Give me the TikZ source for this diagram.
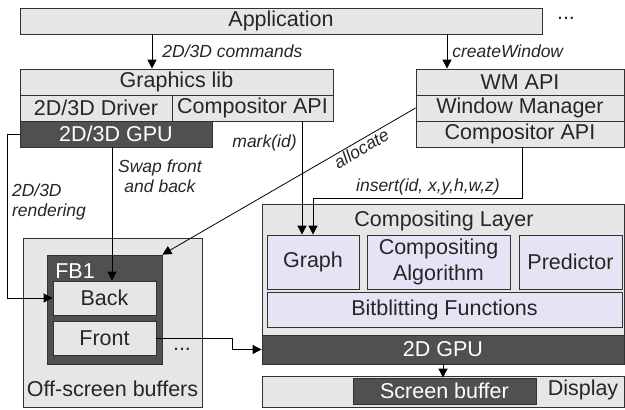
\documentclass[tikz,border=0pt]{standalone}
\usepackage{fontspec}
\setmainfont{Liberation Sans}
\usetikzlibrary{arrows.meta, calc}

\definecolor{boxgray}{RGB}{230,230,230}
\definecolor{boxlav}{RGB}{228,228,245}
\definecolor{boxdark}{RGB}{80,80,80}
\definecolor{linegray}{RGB}{50,50,50}

\begin{document}
\begin{tikzpicture}[x=1pt, y=-1pt,
    every node/.style={font=\fontsize{21.5}{26}\selectfont, text=black!85},
    block/.style={draw=linegray, line width=0.8pt, fill=boxgray, inner sep=0pt},
    subblock/.style={block, fill=boxlav, align=center},
    darkblock/.style={block, fill=boxdark, text=white},
    lbl/.style={font=\fontsize{17.5}{20.5}\selectfont\itshape, inner sep=1pt, align=center},
    arr/.style={-{Triangle[length=9pt, width=9pt]}, line width=0.8pt}]
    \useasboundingbox (0,0) rectangle (625,410);

    % Application level
    \node[block, minimum width=522, minimum height=26] (app) at (281,21) {Application};
    \node (more1) at (566,18) {...};

    % Graphics library stack
    \node[block, minimum width=313, minimum height=26] (glib) at (176.5,82) {Graphics lib};
    \node[block, minimum width=152, minimum height=26] (drv) at (96,108) {2D/3D Driver};
    \node[block, minimum width=161, minimum height=26] (capi1) at (252.5,108) {Compositor API};
    \node[darkblock, minimum width=192, minimum height=26] (gpu3d) at (116,134) {2D/3D GPU};

    % Window manager stack
    \node[block, minimum width=208, minimum height=26] (wmapi) at (520,82) {WM API};
    \node[block, minimum width=208, minimum height=26] (wm) at (520,108) {Window Manager};
    \node[block, minimum width=208, minimum height=26] (capi2) at (520,134) {Compositor API};

    % Off-screen buffers
    \node[block, minimum width=179, minimum height=169] (offs) at (112.5,322.5) {};
    \node (offslbl) at (112.5,389) {Off-screen buffers};
    \node[darkblock, minimum width=115, minimum height=109] (fb1) at (104.5,309.5) {};
    \node[text=white] (fb1lbl) at (75,271) {FB1};
    \node[block, minimum width=103, minimum height=34] (back) at (104.5,298) {Back};
    \node[block, minimum width=103, minimum height=34] (front) at (104.5,338) {Front};
    \node (more2) at (182,349) {...};

    % Compositing layer
    \node[block, minimum width=362, minimum height=131] (comp) at (443,269.5) {};
    \node (complbl) at (444,221) {Compositing Layer};
    \node[subblock, minimum width=92, minimum height=54] (graph) at (313,262) {Graph};
    \node[subblock, minimum width=143, minimum height=54] (calg) at (438.5,262) {Compositing\\Algorithm};
    \node[subblock, minimum width=103, minimum height=54] (pred) at (570.5,262) {Predictor};
    \node[subblock, minimum width=355, minimum height=35] (bitb) at (444.5,309.5) {Bitblitting Functions};
    \node[darkblock, minimum width=362, minimum height=29] (gpu2d) at (443,349.5) {2D GPU};

    % Display
    \node[block, minimum width=362, minimum height=31] (disp) at (443,391.5) {};
    \node[darkblock, minimum width=183, minimum height=26] (sbuf) at (444.5,391) {Screen buffer};
    \node (displbl) at (583,390) {Display};

    % Bend points
    \coordinate (cmdx) at (152,0);
    \coordinate (winx) at (447,0);
    \coordinate (markx) at (302,0);
    \coordinate (insx) at (522,0);
    \coordinate (insy) at (0,198);
    \coordinate (graphx) at (313,0);
    \coordinate (rendx) at (7,0);
    \coordinate (swapx) at (112,0);
    \coordinate (frontx) at (232,0);

    % Connectors
    \draw[arr] (app.south -| cmdx) -- (glib.north -| cmdx)
        node[lbl, midway, right, xshift=9pt] {2D/3D commands};
    \draw[arr] (app.south -| winx) -- (wmapi.north -| winx)
        node[lbl, midway, right, xshift=4pt] {createWindow};
    \draw[arr] (capi1.south -| markx) -- (graph.north -| markx)
        node[lbl, pos=0.19, left, xshift=-4pt] {mark(id)};
    \draw[arr] (capi2.south -| insx) -- (insx |- insy) -- (graphx |- insy)
        node[lbl, pos=0.45, above, yshift=1pt] {insert(id, x,y,h,w,z)}
        -- (graph.north -| graphx);
    \draw[arr] (wm.west) -- (fb1.north east)
        node[lbl, pos=0.23, sloped, below] {allocate};
    \draw[arr] (gpu3d.west) -- (gpu3d.west -| rendx) -- (rendx |- back.west) -- (back.west);
    \node[lbl, align=left] (rendlbl) at (49,202) {2D/3D\\rendering};
    \draw[arr] (gpu3d.south -| swapx) -- (back.north -| swapx);
    \node[lbl] (swaplbl) at (160,176) {Swap front\\and back};
    \draw[arr] (front.east) -- (front.east -| frontx) -- (frontx |- gpu2d.west) -- (gpu2d.west);
    \draw[arr] (gpu2d.south) -- (gpu2d.south |- sbuf.north);
\end{tikzpicture}
\end{document}
